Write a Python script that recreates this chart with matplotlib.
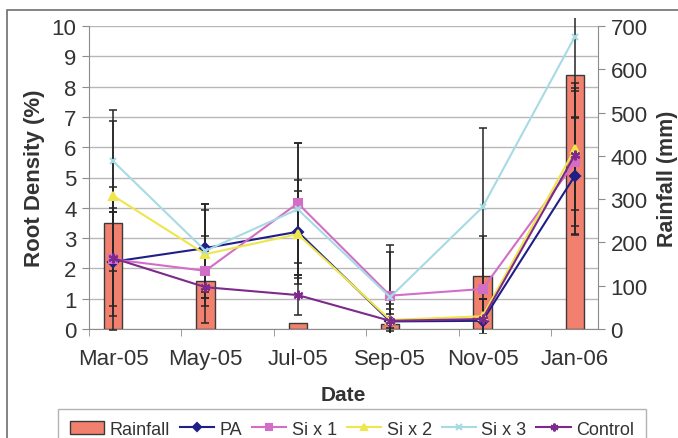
import numpy as np
import matplotlib
matplotlib.use('Agg')
import matplotlib.pyplot as plt
import matplotlib.patches as mpatches

plt.rcParams['font.family'] = ['Liberation Sans', 'DejaVu Sans']

# ── Data ──────────────────────────────────────────────────────────────────────
dates = ['Mar-05', 'May-05', 'Jul-05', 'Sep-05', 'Nov-05', 'Jan-06']
rainfall = [245, 112, 14, 11, 122, 587]          # mm

pa       = [2.22, 2.67, 3.21, 0.25, 0.27, 5.06]
si1      = [2.30, 1.92, 4.15, 1.10, 1.32, 5.50]
si2      = [4.40, 2.47, 3.13, 0.30, 0.42, 5.94]
si3      = [5.54, 2.58, 3.95, 1.05, 4.02, 9.65]
control  = [2.34, 1.38, 1.12, 0.27, 0.33, 5.75]

pa_err      = [1.78, 1.46, 1.71, 0.58, 0.72, 1.95]
si1_err     = [1.55, 1.16, 1.98, 1.68, 1.76, 2.35]
si2_err     = [2.48, 1.46, 1.44, 0.36, 0.57, 2.00]
si3_err     = [1.68, 1.55, 2.18, 1.48, 2.60, 2.70]
control_err = [2.36, 1.18, 0.66, 0.23, 0.66, 2.36]

series = [
    ('PA',      pa,      pa_err,      '#1f1f86', 'D', 5),
    ('Si x 1',  si1,     si1_err,     '#d36ec6', 's', 6),
    ('Si x 2',  si2,     si2_err,     '#eee64a', '^', 6),
    ('Si x 3',  si3,     si3_err,     '#a6dbe4', 'x', 5),
    ('Control', control, control_err, '#7d2a8c', (6, 2, 0), 7),
]

# ── Figure ────────────────────────────────────────────────────────────────────
W, H = 678, 439
fig = plt.figure(figsize=(W / 100, H / 100), dpi=100, facecolor='white')

L, R, B, T = 89 / W, 598 / W, 1 - 330 / H, 1 - 27 / H
axb = fig.add_axes([L, B, R - L, T - B])      # rainfall (right axis)
axl = axb.twinx()                             # root density (left axis)

x = np.arange(len(dates))
GRID = '#b8b8b8'
SPINE = '#8c8c8c'
TXT = '#333333'

# gridlines at every root density unit (1 % = 70 mm)
for k in range(0, 11):
    axb.axhline(k * 70, color=GRID, lw=1.0, zorder=0)

axb.bar(x, rainfall, width=0.2, color='#f2806f', edgecolor='#3a3a3a',
        linewidth=1.0, zorder=2, label='Rainfall')

axb.set_xlim(-0.26, 5.25)
axb.set_ylim(0, 700)
axl.set_ylim(0, 10)

axb.yaxis.tick_right()
axb.yaxis.set_label_position('right')
axl.yaxis.tick_left()
axl.yaxis.set_label_position('left')

axb.set_yticks(np.arange(0, 701, 100))
axl.set_yticks(np.arange(0, 11, 1))
axb.set_xticks(x)
axb.set_xticklabels(dates)
axb.set_xticks(x - 0.26, minor=True)

for ax in (axb, axl):
    for sp in ax.spines.values():
        sp.set_visible(False)
axl.spines['left'].set_visible(True)
axl.spines['left'].set_color(SPINE)
axb.spines['right'].set_visible(True)
axb.spines['right'].set_color(SPINE)
axb.spines['bottom'].set_visible(True)
axb.spines['bottom'].set_color(SPINE)

axb.tick_params(axis='x', which='major', length=0, pad=14, labelsize=16,
                labelcolor=TXT)
axb.tick_params(axis='x', which='minor', length=5, color=SPINE, direction='out')
axb.tick_params(axis='y', length=5, color=SPINE, labelsize=16, labelcolor=TXT,
                pad=4)
axl.tick_params(axis='y', length=5, color=SPINE, labelsize=16, labelcolor=TXT,
                pad=4)

# error bars, clipped to a box slightly larger than the plot area
clip = mpatches.Rectangle((0, -0.012), 1, 1.037, transform=axl.transAxes,
                          fill=False, visible=False)
axl.add_patch(clip)
for name, vals, err, col, mk, ms in series:
    eb = axl.errorbar(x, vals, yerr=err, fmt='none', ecolor='#262626',
                      elinewidth=1.1, capsize=3, capthick=1.1, zorder=2)
    for art in eb.lines[1] + eb.lines[2]:
        art.set_clip_path(clip)

handles = []
for name, vals, err, col, mk, ms in series:
    ln, = axl.plot(x, vals, color=col, lw=1.5, marker=mk, markersize=ms,
                   markerfacecolor=col, markeredgecolor=col,
                   markeredgewidth=1.5, zorder=3, label=name)
    handles.append(ln)

axl.set_ylabel('Root Density (%)', fontsize=16, fontweight='bold',
               color=TXT, labelpad=5)
axb.set_ylabel('Rainfall (mm)', fontsize=15.5, fontweight='bold',
               color=TXT, labelpad=7)
fig.text(343 / W, 1 - 396 / H, 'Date', ha='center', va='center',
         fontsize=15, fontweight='bold', color=TXT)

bar_handle = mpatches.Patch(facecolor='#f2806f', edgecolor='#3a3a3a',
                            label='Rainfall')
leg = fig.legend([bar_handle] + handles,
                 ['Rainfall'] + [s[0] for s in series],
                 loc='upper center', bbox_to_anchor=(352 / W, 1 - 410 / H),
                 ncol=6, fontsize=13, frameon=True, fancybox=False,
                 edgecolor='#a0a0a0', handlelength=1.9, handletextpad=0.3,
                 columnspacing=0.55, borderpad=0.65, borderaxespad=0,
                 markerscale=0.8, labelcolor=TXT)
leg.get_frame().set_linewidth(1.0)

# outer chart border
fig.add_artist(mpatches.Rectangle((7 / W, -0.05), 1.0, 1 - 11 / H + 0.05,
                                  transform=fig.transFigure, fill=False,
                                  edgecolor='#6e6e6e', linewidth=1.2))

fig.savefig('out.png', dpi=100, facecolor='white')
plt.close(fig)
